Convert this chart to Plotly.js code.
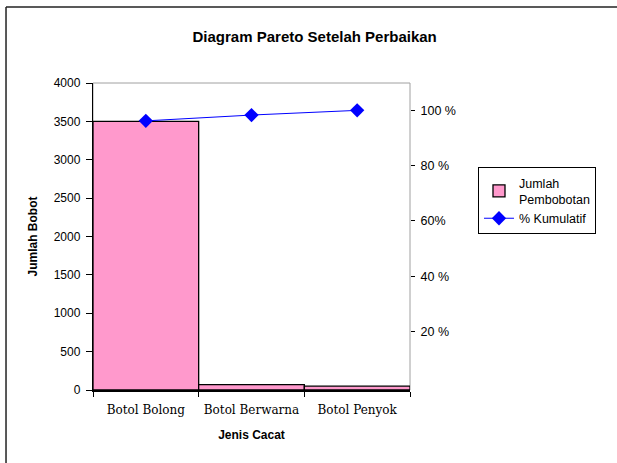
<!DOCTYPE html>
<html>
<head>
<meta charset="utf-8">
<script src="https://cdn.plot.ly/plotly-3.0.1.min.js"></script>
<style>html,body{margin:0;padding:0;background:#fff;overflow:hidden;}#chart{width:617px;height:463px;}</style>
</head>
<body>
<div id="chart"></div>
<script>
const categories = ["Botol Bolong", "Botol Berwarna", "Botol Penyok"];
const bobot = [3500, 70, 50];
const kumulatif = [96.2, 98.3, 100];
const pctTickVals = [20, 40, 60, 80, 100];
const pctTickText = ["20 %", "40 %", "60%", "80 %", "100 %"];

const data = [
  {
    type: "bar", x: categories, y: bobot, name: "Jumlah<br>Pembobotan",
    width: 1,
    marker: {color: "#FF99CC", line: {color: "#000000", width: 1.3}},
    hoverinfo: "skip"
  },
  {
    type: "scatter", mode: "lines+markers", x: categories, y: kumulatif, yaxis: "y2",
    name: "% Kumulatif",
    line: {color: "#0000FF", width: 1},
    marker: {symbol: "diamond", size: 11, color: "#0000FF"},
    hoverinfo: "skip"
  }
];

const layout = {
  width: 617, height: 463,
  margin: {l: 93, r: 207, t: 83, b: 73},
  paper_bgcolor: "#ffffff", plot_bgcolor: "#ffffff",
  bargap: 0,
  showlegend: true,
  title: {text: "Diagram Pareto Setelah Perbaikan", x: 0.51, xanchor: "center", y: 0.92, yanchor: "middle",
          font: {family: "Liberation Sans, Arial", size: 15, color: "#000", weight: "bold"}},
  xaxis: {
    type: "category", range: [-0.5, 2.5], showgrid: false, zeroline: false,
    showline: true, linecolor: "#000", linewidth: 1.5,
    ticks: "outside", tickson: "boundaries", ticklen: 5, tickcolor: "#000",
    tickangle: 0, ticklabelstandoff: 8,
    tickfont: {family: "DejaVu Serif, Liberation Serif, serif", size: 12, color: "#000"},
    title: {text: "Jenis Cacat", standoff: 14, font: {family: "Liberation Sans, Arial", size: 12, color: "#000", weight: "bold"}}
  },
  yaxis: {
    range: [0, 4000], dtick: 500, showgrid: false, zeroline: false,
    showline: true, linecolor: "#000", linewidth: 1.2,
    ticks: "outside", ticklen: 6, tickcolor: "#000",
    ticklabelstandoff: 3,
    tickfont: {family: "Liberation Sans, Arial", size: 12, color: "#000"},
    title: {text: "Jumlah Bobot", standoff: 13, font: {family: "Liberation Sans, Arial", size: 12, color: "#000", weight: "bold"}}
  },
  yaxis2: {
    overlaying: "y", side: "right", range: [-1.2, 109.9],
    tickvals: pctTickVals, ticktext: pctTickText,
    showgrid: false, zeroline: false, showline: false,
    ticks: "outside", ticklen: 4, tickcolor: "#000",
    ticklabelstandoff: 3,
    tickfont: {family: "Liberation Sans, Arial", size: 12.5, color: "#000"}
  },
  legend: {
    x: 1.2145, y: 0.726, xanchor: "left", yanchor: "top",
    bgcolor: "#ffffff", bordercolor: "#000", borderwidth: 1,
    font: {family: "Liberation Sans, Arial", size: 12.5, color: "#000"},
    tracegroupgap: 4, itemwidth: 30
  },
  shapes: [
    {type: "rect", xref: "paper", yref: "paper", x0: 0, x1: 1, y0: 0, y1: 1, layer: "below",
     line: {color: "#A0A0A0", width: 1}},
    {type: "line", xref: "paper", yref: "paper", x0: -0.2744, x1: -0.2744, y0: -0.3, y1: 1.2476,
     line: {color: "#222", width: 1.5}},
    {type: "line", xref: "paper", yref: "paper", x0: -0.2744, x1: 1.67, y0: 1.2476, y1: 1.2476,
     line: {color: "#222", width: 1.5}}
  ]
};

Plotly.newPlot("chart", data, layout, {displayModeBar: false, staticPlot: true});
</script>
</body>
</html>
